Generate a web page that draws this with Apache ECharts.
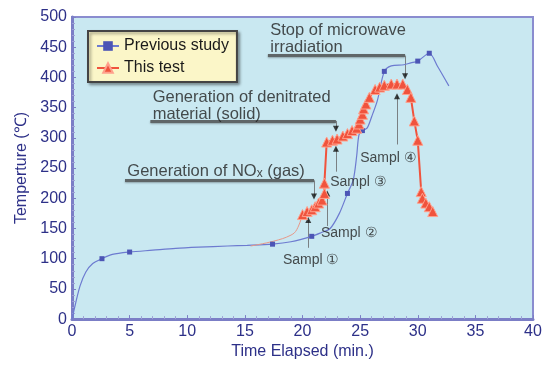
<!DOCTYPE html>
<html><head><meta charset="utf-8">
<script src="https://cdn.jsdelivr.net/npm/echarts@6/dist/echarts.min.js"></script>
<style>html,body{margin:0;padding:0;background:#fff}#c{width:547px;height:365px}</style>
</head><body><div id="c"></div>
<script>
// Previous study (blue)
const blueTime = [0,0.3,0.7,1.2,1.8,2.6,3.5,5.0,7,9,11,13.5,15.2,17.4,19,20.8,21.6,22.4,23.2,23.9,24.4,24.7,24.9,25.2,25.6,26.0,26.5,27.1,27.7,28.8,29.4,30.0,31.0,31.7,32.7];
const blueTemp = [0,25,55,78,92,100,107,111,114,117,119,121,122,124,128,137,143,150,175,208,230,270,305,312,316,335,362,410,419,421,424,427,440,419,386];
const blueMark = [0,0,0,0,0,1,0,1,0,0,0,0,0,1,0,1,0,0,0,1,0,0,0,1,0,0,0,1,0,0,0,1,1,0,0];
// This test (red)
const redTime = [20.0,20.4,20.8,21.1,21.4,21.7,21.9,21.9,22.1,22.6,23.0,23.5,23.9,24.3,24.7,24.9,25.0,25.2,25.3,25.5,25.8,26.3,26.7,27.1,27.7,28.2,28.7,29.1,29.4,29.7,30.0,30.3,30.4,30.7,31.0,31.3];
const redTemp = [173,178,181,186,192,197,208,225,293,296,298,303,307,312,316,323,331,339,348,356,367,380,384,387,389,389,389,380,367,328,296,211,200,192,186,178];
const redLeadTime = [15.5,17.5,19.0,19.5,20.0];
const redLeadTemp = [121,129,139,148,173];
// Annotations
const annoText = ['Stop of microwave\nirradiation','Generation of denitrated\nmaterial (solid)','{a|Generation of NO}{s|x}{a| (gas)}'];
const annoPos = [[17.2,435],[7.0,325],[4.8,230]];
const annoLines = [[[17.0,436],[28.9,436]],[[6.8,328],[22.9,328]],[[4.6,229.5],[21.0,229.5]]];
const sampleText = ['Sampl \u2460','Sampl \u2461','Sampl \u2462','Sampl \u2463'];
const samplePos = [[18.3,98],[21.6,143],[22.4,226],[25.0,266]];
const leaderLines = [[[20.5,164],[20.5,118]],[[22.15,208],[22.15,154]],[[22.9,282],[22.9,244]],[[28.2,369],[28.2,289]],[[21.0,229.5],[21.0,203]],[[22.9,328],[22.9,315]],[[28.9,436],[28.9,402]]];
const arrowUp = [[20.5,164],[22.15,208],[22.9,282],[28.2,369]];
const arrowDown = [[21.0,203],[22.9,315],[28.9,402]];

const navy = '#2d3088';
const chart = echarts.init(document.getElementById('c'));
const font = 'Liberation Sans, Arial, sans-serif';
chart.setOption({
  animation:false,
  textStyle:{fontFamily:font},
  grid:{left:72,right:14,top:17,bottom:43,show:true,backgroundColor:'#c9e8f1',borderColor:'#8a8ccf',borderWidth:2},
  legend:{orient:'vertical',left:88,top:31,padding:[7,8,6,8],itemGap:6,itemWidth:22,itemHeight:12,
    backgroundColor:'#fbf6c8',borderColor:'#444',borderWidth:2,shadowColor:'rgba(0,0,0,0.35)',shadowBlur:3,shadowOffsetX:2,shadowOffsetY:2,
    textStyle:{fontSize:16,color:'#1a1a1a',fontFamily:font},
    data:['Previous study','This test']},
  xAxis:{type:'value',min:0,max:40,interval:5,
    name:'Time Elapsed (min.)',nameLocation:'middle',nameGap:22,nameTextStyle:{fontSize:16,color:navy},
    axisLine:{onZero:false,lineStyle:{color:'#7b7ec6',width:3}},
    axisTick:{inside:true,length:4,lineStyle:{color:'#7b7ec6'}},
    minorTick:{show:true,splitNumber:5,length:3,lineStyle:{color:'#9da0d6'}},
    axisLabel:{fontSize:16,color:navy,margin:4},splitLine:{show:false}},
  yAxis:{type:'value',min:0,max:500,interval:50,
    name:'Temperture (\u2103)',nameLocation:'middle',nameGap:41,nameTextStyle:{fontSize:16,color:navy},
    axisLine:{onZero:false,lineStyle:{color:'#7b7ec6',width:3}},
    axisTick:{inside:true,length:4,lineStyle:{color:'#7b7ec6'}},
    minorTick:{show:true,splitNumber:5,length:3,lineStyle:{color:'#9da0d6'}},
    axisLabel:{fontSize:16,color:navy,margin:5},splitLine:{show:false}},
  series:[
    {type:'lines',coordinateSystem:'cartesian2d',z:1,silent:true,
      lineStyle:{color:'#5f6668',width:3,opacity:1,shadowColor:'rgba(0,0,0,0.3)',shadowBlur:2,shadowOffsetY:1},
      data:annoLines.map(c=>({coords:c}))},
    {type:'lines',coordinateSystem:'cartesian2d',z:1,silent:true,
      lineStyle:{color:'#7a8083',width:1,opacity:1},
      data:leaderLines.map(c=>({coords:c}))},
    {type:'scatter',z:1,silent:true,symbol:'triangle',symbolSize:[6,6],itemStyle:{color:'#111'},data:arrowUp},
    {type:'scatter',z:1,silent:true,symbol:'triangle',symbolRotate:180,symbolSize:[6,6],itemStyle:{color:'#111'},data:arrowDown},
    {type:'scatter',z:5,silent:true,symbolSize:0,
      label:{show:true,position:'right',distance:0,align:'left',verticalAlign:'bottom',fontSize:16.5,lineHeight:17,color:'#222',
        rich:{a:{fontSize:16.5,color:'#222'},s:{fontSize:12,color:'#222',verticalAlign:'bottom'}},
        formatter:p=>annoText[p.dataIndex]},
      data:annoPos},
    {type:'scatter',z:5,silent:true,symbolSize:0,
      label:{show:true,position:'right',distance:0,fontSize:14,color:'#222',formatter:p=>sampleText[p.dataIndex]},
      data:samplePos},
    {name:'Previous study',type:'line',z:3,symbol:'rect',symbolSize:5,smooth:0.3,
      lineStyle:{color:'#6d7bd0',width:1.2},itemStyle:{color:'#4c55b5'},
      data:blueTime.map((t,i)=>({value:[t,blueTemp[i]],symbol:blueMark[i]?'rect':'none'}))},
    {name:'This test',type:'line',z:4,symbol:'triangle',symbolSize:10,
      lineStyle:{color:'#f0533d',width:2},itemStyle:{color:'#f0533d',borderColor:'#ffa08c',borderWidth:1},
      data:redTime.map((t,i)=>[t,redTemp[i]])},
    {name:'This test',type:'line',z:3,symbol:'none',smooth:0.4,
      lineStyle:{color:'#e89888',width:1},
      data:redLeadTime.map((t,i)=>[t,redLeadTemp[i]])}
  ]
});
</script></body></html>
